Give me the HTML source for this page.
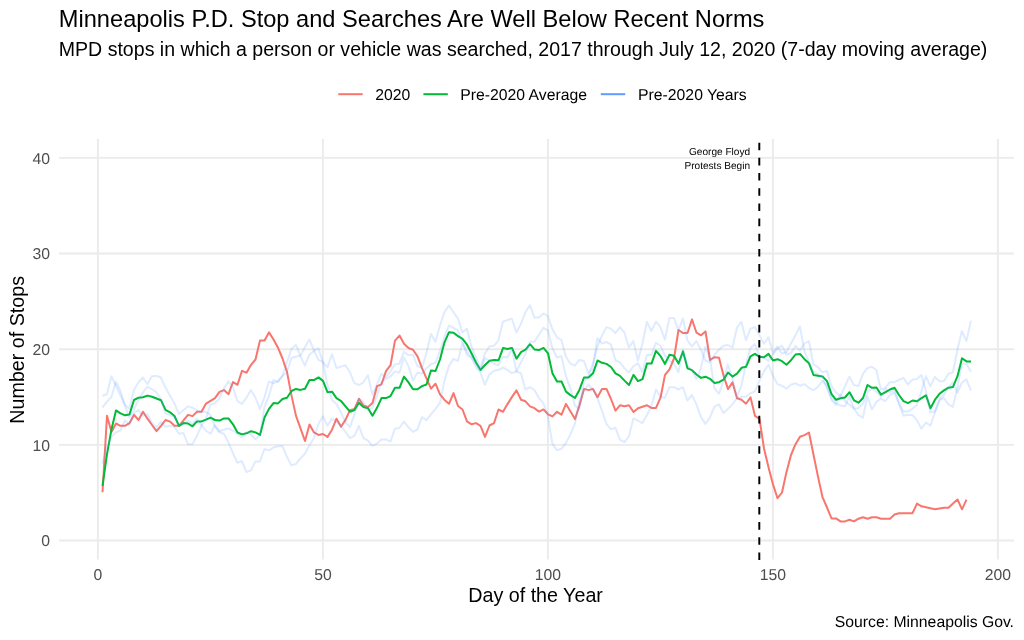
<!DOCTYPE html>
<html><head><meta charset="utf-8"><title>Minneapolis P.D. Stop and Searches</title>
<style>
html,body{margin:0;padding:0;background:#fff;}
body{width:1024px;height:640px;overflow:hidden;position:relative;font-family:"Liberation Sans",Arial,sans-serif;}
svg{position:absolute;left:0;top:0;}
text{font-family:"Liberation Sans",Arial,sans-serif;}
.gp text, text.gp{text-rendering:geometricPrecision;}
</style></head><body>
<svg width="1024" height="640" viewBox="0 0 1024 640">
<rect width="1024" height="640" fill="#fff"/>
<text x="58.8" y="26.9" font-size="23.64" fill="#000">Minneapolis P.D. Stop and Searches Are Well Below Recent Norms</text>
<text x="58.75" y="55.65" font-size="19.57" fill="#000">MPD stops in which a person or vehicle was searched, 2017 through July 12, 2020 (7-day moving average)</text>
<g stroke-width="2" fill="none">
<line x1="338.3" x2="362.7" y1="94.2" y2="94.2" stroke="#F8766D"/>
<line x1="423.4" x2="447.8" y1="94.2" y2="94.2" stroke="#00BA38"/>
<line x1="600.8" x2="625.2" y1="94.2" y2="94.2" stroke="#619CFF"/>
</g>
<g class="gp" font-size="15.76" fill="#000">
<text x="375.2" y="99.6">2020</text>
<text x="460.3" y="99.6">Pre-2020 Average</text>
<text x="638.1" y="99.6">Pre-2020 Years</text>
</g>
<g stroke="#EBEBEB" stroke-width="1.9" fill="none"><line x1="59.1" x2="1013.9" y1="540.55" y2="540.55"/><line x1="59.1" x2="1013.9" y1="444.89" y2="444.89"/><line x1="59.1" x2="1013.9" y1="349.23" y2="349.23"/><line x1="59.1" x2="1013.9" y1="253.57" y2="253.57"/><line x1="59.1" x2="1013.9" y1="157.91" y2="157.91"/><line x1="97.90" x2="97.90" y1="139.0" y2="559.4"/><line x1="322.90" x2="322.90" y1="139.0" y2="559.4"/><line x1="547.90" x2="547.90" y1="139.0" y2="559.4"/><line x1="772.90" x2="772.90" y1="139.0" y2="559.4"/><line x1="997.90" x2="997.90" y1="139.0" y2="559.4"/></g>
<g class="gp" font-size="15.76" fill="#4D4D4D"><text x="50" y="546.1" text-anchor="end">0</text><text x="50" y="450.5" text-anchor="end">10</text><text x="50" y="354.8" text-anchor="end">20</text><text x="50" y="259.2" text-anchor="end">30</text><text x="50" y="163.5" text-anchor="end">40</text><text x="97.9" y="580.0" text-anchor="middle">0</text><text x="322.9" y="580.0" text-anchor="middle">50</text><text x="547.9" y="580.0" text-anchor="middle">100</text><text x="772.9" y="580.0" text-anchor="middle">150</text><text x="997.9" y="580.0" text-anchor="middle">200</text></g>
<polyline points="102.5,492.2 107.0,415.7 111.5,432.1 116.0,423.5 120.5,425.8 125.0,425.8 129.5,423.1 134.0,414.9 138.5,420.0 143.0,411.7 147.5,418.7 152.0,425.0 156.5,431.2 161.0,425.8 165.5,420.0 170.0,421.6 174.5,425.8 179.0,425.8 183.5,420.3 188.0,414.9 192.5,416.1 197.0,411.7 201.5,411.7 206.0,403.6 210.5,400.8 215.0,398.1 219.5,391.9 224.0,390.1 228.5,394.2 233.0,382.0 237.5,384.8 242.0,370.8 246.5,372.7 251.0,364.8 255.5,359.5 260.0,340.6 264.5,340.6 269.0,332.4 273.5,339.5 278.0,347.7 282.5,358.5 287.0,371.9 291.5,395.6 296.0,415.9 300.5,428.3 305.0,441.0 309.5,424.5 314.0,432.4 318.5,434.9 323.0,434.0 327.5,436.9 332.0,429.7 336.5,418.7 341.0,426.8 345.5,419.9 350.0,410.1 354.5,408.9 359.0,398.7 363.5,405.8 368.0,406.9 372.5,403.1 377.0,386.2 381.5,384.3 386.0,371.1 390.5,365.2 395.0,340.6 399.5,335.6 404.0,343.7 408.5,348.0 413.0,349.7 417.5,356.4 422.0,368.1 426.5,378.3 431.0,388.6 435.5,383.7 440.0,394.4 444.5,399.9 449.0,403.8 453.5,393.1 458.0,406.0 462.5,409.5 467.0,421.3 471.5,424.3 476.0,423.1 480.5,425.8 485.0,436.9 489.5,425.5 494.0,423.1 498.5,409.5 503.0,411.8 507.5,404.1 512.0,396.9 516.5,390.4 521.0,399.7 525.5,401.3 530.0,406.3 534.5,408.2 539.0,411.6 543.5,409.4 548.0,414.3 552.5,416.4 557.0,411.8 561.5,414.7 566.0,403.9 570.5,411.6 575.0,419.1 579.5,405.3 584.0,388.9 588.5,390.1 593.0,388.9 597.5,397.2 602.0,388.9 606.5,388.9 611.0,399.0 615.5,410.6 620.0,405.3 624.5,406.3 629.0,405.2 633.5,412.0 638.0,408.2 642.5,406.8 647.0,405.3 651.5,407.9 656.0,407.9 660.5,397.7 665.0,374.9 669.5,369.3 674.0,358.5 678.5,330.0 683.0,333.0 687.5,333.0 692.0,319.4 696.5,332.7 701.0,335.3 705.5,331.4 710.0,360.0 714.5,357.2 719.0,357.7 723.5,375.4 728.0,389.1 732.5,382.4 737.0,398.3 741.5,399.8 746.0,403.7 750.5,397.2 755.0,415.9 759.5,418.9 764.0,448.4 768.5,467.2 773.0,484.4 777.5,498.2 782.0,492.5 786.5,471.9 791.0,455.0 795.5,444.2 800.0,436.8 804.5,435.1 809.0,432.5 813.5,454.7 818.0,476.6 822.5,497.2 827.0,507.5 831.5,518.4 836.0,518.4 840.5,521.4 845.0,521.4 849.5,519.8 854.0,521.4 858.5,518.7 863.0,517.2 867.5,518.7 872.0,517.2 876.5,517.2 881.0,518.7 885.5,518.7 890.0,518.7 894.5,514.5 899.0,513.2 903.5,513.2 908.0,513.2 912.5,513.2 917.0,503.6 921.5,506.3 926.0,507.3 930.5,508.3 935.0,509.3 939.5,508.6 944.0,507.8 948.5,507.8 953.0,503.6 957.5,499.5 962.0,509.3 966.5,499.7" stroke="#F8766D" stroke-width="2" fill="none" stroke-linejoin="round"/>
<polyline points="102.5,485.9 107.0,454.1 111.5,429.2 116.0,410.4 120.5,413.4 125.0,415.3 129.5,414.4 134.0,400.0 138.5,397.7 143.0,397.3 147.5,395.6 152.0,396.8 156.5,398.5 161.0,400.2 165.5,409.9 170.0,412.3 174.5,416.0 179.0,425.8 183.5,423.1 188.0,423.5 192.5,426.3 197.0,421.4 201.5,421.4 206.0,419.6 210.5,417.7 215.0,420.0 219.5,420.6 224.0,418.4 228.5,418.4 233.0,424.3 237.5,432.5 242.0,434.4 246.5,433.3 251.0,431.2 255.5,432.4 260.0,434.9 264.5,417.5 269.0,408.9 273.5,403.1 278.0,403.4 282.5,399.0 287.0,397.7 291.5,391.0 296.0,388.9 300.5,389.9 305.0,388.7 309.5,380.0 314.0,380.1 318.5,377.4 323.0,380.9 327.5,392.2 332.0,391.7 336.5,398.1 341.0,401.0 345.5,406.3 350.0,411.7 354.5,410.1 359.0,402.7 363.5,407.1 368.0,408.2 372.5,415.7 377.0,407.8 381.5,398.1 386.0,398.1 390.5,396.1 395.0,387.8 399.5,387.8 404.0,376.6 408.5,382.4 413.0,389.2 417.5,389.2 422.0,386.1 426.5,384.5 431.0,370.5 435.5,371.0 440.0,359.5 444.5,342.3 449.0,332.2 453.5,332.7 458.0,336.1 462.5,338.8 467.0,344.7 471.5,353.3 476.0,362.4 480.5,370.0 485.0,365.0 489.5,360.7 494.0,359.9 498.5,360.3 503.0,348.1 507.5,349.0 512.0,347.9 516.5,358.7 521.0,352.1 525.5,349.7 530.0,344.2 534.5,349.4 539.0,350.1 543.5,347.9 548.0,353.3 552.5,373.6 557.0,381.5 561.5,381.5 566.0,391.6 570.5,395.1 575.0,398.0 579.5,389.7 584.0,377.5 588.5,377.5 593.0,373.3 597.5,360.5 602.0,362.8 606.5,363.9 611.0,367.0 615.5,373.3 620.0,375.9 624.5,380.6 629.0,385.0 633.5,374.9 638.0,381.1 642.5,379.2 647.0,363.6 651.5,363.6 656.0,350.9 660.5,356.1 665.0,363.9 669.5,354.8 674.0,355.8 678.5,363.6 683.0,351.4 687.5,368.3 692.0,370.2 696.5,374.5 701.0,377.9 705.5,376.7 710.0,378.8 714.5,383.0 719.0,382.2 723.5,379.7 728.0,372.5 732.5,376.6 737.0,373.7 741.5,367.8 746.0,366.8 750.5,356.3 755.0,353.8 759.5,356.8 764.0,357.3 768.5,353.9 773.0,360.5 777.5,359.2 782.0,361.2 786.5,364.7 791.0,360.2 795.5,354.5 800.0,353.9 804.5,359.2 809.0,363.3 813.5,375.0 818.0,375.7 822.5,376.4 827.0,381.1 831.5,394.1 836.0,399.8 840.5,398.3 845.0,397.5 849.5,392.2 854.0,400.3 858.5,402.7 863.0,398.0 867.5,385.0 872.0,387.8 876.5,387.5 881.0,394.6 885.5,392.2 890.0,389.5 894.5,387.7 899.0,395.0 903.5,401.2 908.0,403.2 912.5,400.5 917.0,401.2 921.5,398.1 926.0,395.3 930.5,408.3 935.0,399.7 939.5,393.8 944.0,390.4 948.5,387.7 953.0,386.9 957.5,376.2 962.0,358.3 966.5,361.4 971.0,361.4" stroke="#00BA38" stroke-width="2" fill="none" stroke-linejoin="round"/>
<g stroke="#619CFF" stroke-opacity="0.2" stroke-width="2" fill="none" stroke-linejoin="round"><polyline points="102.4,395.7 106.9,394.2 111.4,376.3 115.9,385.8 120.4,395.4 124.9,404.8 129.4,408.7 133.9,390.0 138.4,382.2 142.9,377.5 147.4,384.2 151.9,376.3 156.4,375.9 160.9,377.5 165.4,387.6 169.9,395.4 174.4,403.3 178.9,414.1 183.4,410.3 187.9,406.4 192.4,407.7 196.9,410.3 201.4,411.9 205.9,411.9 210.4,415.0 214.9,426.7 219.4,432.2 223.9,433.7 228.4,442.3 232.9,453.2 237.4,462.7 241.9,461.0 246.4,472.0 250.9,470.4 255.4,461.5 259.9,461.5 264.4,449.1 268.9,450.3 273.4,447.5 277.9,446.2 282.4,445.9 286.9,456.8 291.4,465.4 295.9,464.0 300.4,458.5 304.9,453.8 309.4,445.2 313.9,438.2 318.4,424.1 322.9,416.2 327.4,425.8 331.9,418.6 336.4,421.7 340.9,425.8 345.4,431.9 349.9,438.2 354.4,435.8 358.9,425.8 363.4,438.2 367.9,440.5 372.4,445.9 376.9,443.7 381.4,439.6 385.9,439.4 390.4,441.6 394.9,428.7 399.4,428.0 403.9,421.7 408.4,427.2 412.9,431.9 417.4,429.6 421.9,417.2 426.4,420.1 430.9,414.3 435.4,409.1 439.9,402.9 444.4,380.9 448.9,366.1 453.4,358.9 457.9,360.9 462.4,343.3 466.9,351.6 471.4,357.0 475.9,367.1 480.4,372.7 484.9,384.7 489.4,374.7 493.9,370.8 498.4,370.0 502.9,367.6 507.4,370.0 511.9,373.1 516.4,371.6 520.9,362.2 525.4,353.6 529.9,341.8 534.4,341.8 538.9,334.8 543.4,327.8 547.9,330.3 552.4,348.2 556.9,357.5 561.4,356.1 565.9,376.1 570.4,388.6 574.9,405.6 579.4,409.1 583.9,382.3 588.4,375.6 592.9,367.7 597.4,337.9 601.9,343.6 606.4,342.0 610.9,344.4 615.4,360.1 619.9,362.4 624.4,368.3 628.9,372.4 633.4,366.3 637.9,363.2 642.4,371.9 646.9,355.0 651.4,355.1 655.9,342.7 660.4,345.8 664.9,355.5 669.4,360.6 673.9,363.4 678.4,372.2 682.9,349.7 687.4,365.3 691.9,370.3 696.4,379.2 700.9,368.4 705.4,346.8 709.9,357.7 714.4,388.4 718.9,393.8 723.4,381.4 727.9,364.6 732.4,379.1 736.9,396.5 741.4,385.8 745.9,364.6 750.4,348.1 754.9,344.1 759.4,355.7 763.9,357.9 768.4,361.0 772.9,354.3 777.4,348.3 781.9,345.6 786.4,354.5 790.9,353.3 795.4,345.9 799.9,350.6 804.4,343.5 808.9,341.0 813.4,364.4 817.9,367.2 822.4,372.3 826.9,371.0 831.4,386.0 835.9,392.5 840.4,396.2 844.9,386.5 849.4,376.6 853.9,385.0 858.4,386.0 862.9,373.8 867.4,368.1 871.9,366.7 876.4,370.0 880.9,389.7 885.4,387.8 889.9,382.2 894.4,382.2 898.9,380.0 903.4,377.8 907.9,384.4 912.4,379.8 916.9,379.0 921.4,375.0 925.9,391.2 930.4,412.5 934.9,411.3 939.4,400.0 943.9,395.0 948.4,387.6 952.9,382.5 957.4,392.5 961.9,382.5 966.4,379.4 970.9,390.7"/><polyline points="102.4,407.7 106.9,401.7 111.4,397.0 115.9,381.7 120.4,390.8 124.9,405.6 129.4,417.3 133.9,409.5 138.4,400.1 142.9,392.3 147.4,386.8 151.9,389.2 156.4,392.3 160.9,399.3 165.4,413.4 169.9,415.0 174.4,417.3 178.9,425.1 183.4,423.6 187.9,420.7 192.4,423.6 196.9,418.8 201.4,425.1 205.9,430.6 210.4,433.7 214.9,425.1 219.4,431.3 223.9,429.8 228.4,428.3 232.9,430.6 237.4,433.7 241.9,437.6 246.4,432.2 250.9,434.5 255.4,439.2 259.9,435.3 264.4,407.0 268.9,396.2 273.4,380.0 277.9,381.9 282.4,375.8 286.9,362.2 291.4,349.0 295.9,344.8 300.4,356.1 304.9,365.6 309.4,354.7 313.9,350.9 318.4,348.2 322.9,362.2 327.4,367.4 331.9,354.2 336.4,368.0 340.9,366.6 345.4,365.2 349.9,372.3 354.4,383.1 358.9,385.0 363.4,382.3 367.9,375.2 372.4,394.9 376.9,384.7 381.4,373.8 385.9,377.1 390.4,371.4 394.9,364.4 399.4,363.7 403.9,351.9 408.4,355.1 412.9,354.7 417.4,366.1 421.9,368.0 426.4,353.2 430.9,334.1 435.4,341.8 439.9,325.5 444.4,312.2 448.9,305.5 453.4,312.2 457.9,318.5 462.4,332.5 466.9,328.6 471.4,346.5 475.9,357.5 480.4,368.5 484.9,353.6 489.4,346.5 493.9,345.8 498.4,340.3 502.9,321.7 507.4,320.0 511.9,318.8 516.4,332.5 520.9,323.9 525.4,312.2 529.9,305.2 534.4,317.6 538.9,317.6 543.4,313.5 547.9,316.0 552.4,329.3 556.9,337.2 561.4,340.3 565.9,356.8 570.4,363.7 574.9,365.6 579.4,359.9 583.9,360.9 588.4,373.3 592.9,363.7 597.4,346.5 601.9,335.6 606.4,327.1 610.9,328.6 615.4,333.2 619.9,327.1 624.4,332.5 628.9,347.5 633.4,341.1 637.9,360.6 642.4,343.7 646.9,321.7 651.4,331.0 655.9,321.7 660.4,327.1 664.9,339.6 669.4,317.9 673.9,317.9 678.4,330.3 682.9,318.5 687.4,340.3 691.9,346.5 696.4,341.1 700.9,349.7 705.4,360.6 709.9,362.2 714.4,355.1 718.9,349.7 723.4,345.8 727.9,345.0 732.4,347.5 736.9,327.8 741.4,321.7 745.9,340.3 750.4,328.6 754.9,327.1 759.4,335.1 763.9,343.7 768.4,337.2 772.9,352.8 777.4,346.5 781.9,353.6 786.4,352.0 790.9,343.7 795.4,335.6 799.9,326.5 804.4,351.3 808.9,362.2 813.4,371.6 817.9,374.3 822.4,377.2 826.9,387.5 831.4,397.4 835.9,403.4 840.4,405.6 844.9,406.3 849.4,396.3 853.9,408.6 858.4,408.2 862.9,403.7 867.4,391.9 871.9,388.5 876.4,391.7 880.9,396.9 885.4,388.9 889.9,392.3 894.4,389.7 898.9,402.5 903.4,411.6 907.9,411.6 912.4,408.8 916.9,405.0 921.4,391.2 925.9,376.2 930.4,386.3 934.9,376.9 939.4,381.3 943.9,381.3 948.4,373.8 952.9,372.5 957.4,350.0 961.9,331.0 966.4,341.1 970.9,320.8"/><polyline points="102.4,463.4 106.9,447.0 111.4,436.9 115.9,432.2 120.4,430.6 124.9,420.5 129.4,424.4 133.9,413.4 138.4,409.9 142.9,415.8 147.4,414.1 151.9,422.7 156.4,427.4 160.9,422.0 165.4,426.7 169.9,425.9 174.4,426.7 178.9,433.7 183.4,433.0 187.9,444.2 192.4,444.2 196.9,436.0 201.4,425.9 205.9,418.8 210.4,404.8 214.9,403.3 219.4,398.6 223.9,388.4 228.4,381.4 232.9,387.6 237.4,400.9 241.9,404.0 246.4,397.8 250.9,390.0 255.4,397.5 259.9,409.2 264.4,397.5 268.9,381.4 273.4,383.3 277.9,381.4 282.4,376.1 286.9,372.3 291.4,358.0 295.9,356.8 300.4,355.6 304.9,347.2 309.4,339.5 313.9,350.4 318.4,359.9 322.9,361.8 327.4,384.7 331.9,400.0 336.4,403.8 340.9,412.4 345.4,422.0 349.9,427.2 354.4,414.7 358.9,398.8 363.4,401.9 367.9,410.1 372.4,407.7 376.9,396.2 381.4,381.9 385.9,379.0 390.4,376.5 394.9,371.4 399.4,372.8 403.9,357.4 408.4,366.1 412.9,380.4 417.4,372.7 421.9,373.6 426.4,368.5 430.9,364.2 435.4,362.8 439.9,351.3 444.4,337.0 448.9,325.5 453.4,327.8 457.9,330.3 462.4,341.8 466.9,355.1 471.4,357.5 475.9,363.7 480.4,370.0 484.9,358.0 489.4,360.6 493.9,363.7 498.4,365.3 502.9,356.8 507.4,357.5 511.9,348.9 516.4,371.6 520.9,373.3 525.4,389.5 529.9,387.2 534.4,390.0 538.9,398.1 543.4,403.2 547.9,415.8 552.4,443.9 556.9,450.2 561.4,448.7 565.9,443.1 570.4,434.4 574.9,423.9 579.4,401.3 583.9,390.5 588.4,384.7 592.9,389.5 597.4,398.1 601.9,410.5 606.4,423.9 610.9,429.3 615.4,427.7 619.9,439.6 624.4,442.2 628.9,436.3 633.4,418.4 637.9,420.7 642.4,423.1 646.9,415.3 651.4,405.9 655.9,389.5 660.4,396.6 664.9,397.8 669.4,387.2 673.9,387.2 678.4,389.5 682.9,387.2 687.4,400.5 691.9,395.0 696.4,404.4 700.9,416.9 705.4,423.9 709.9,417.7 714.4,406.7 718.9,404.4 723.4,413.0 727.9,409.1 732.4,404.4 736.9,398.1 741.4,397.1 745.9,396.6 750.4,393.3 754.9,391.4 759.4,380.9 763.9,371.6 768.4,364.7 772.9,375.5 777.4,384.1 781.9,385.7 786.4,388.7 790.9,384.7 795.4,383.3 799.9,385.7 804.4,384.1 808.9,388.0 813.4,390.2 817.9,386.9 822.4,380.9 826.9,386.0 831.4,400.0 835.9,404.8 840.4,394.3 844.9,401.0 849.4,404.8 853.9,408.4 858.4,415.0 862.9,417.7 867.4,396.2 871.9,409.4 876.4,401.9 880.9,398.6 885.4,401.0 889.9,395.2 894.4,392.4 898.9,403.8 903.4,415.6 907.9,415.0 912.4,415.0 916.9,420.1 921.4,428.7 925.9,422.5 930.4,425.6 934.9,412.5 939.4,400.0 943.9,398.1 948.4,404.4 952.9,406.9 957.4,387.4 961.9,363.7 966.4,363.7 970.9,371.8"/></g>
<line x1="759.3" x2="759.3" y1="560.0" y2="139" stroke="#000" stroke-width="1.95" stroke-dasharray="7.59 7.585"/>
<g class="gp" font-size="10.1" fill="#000" text-anchor="end">
<text x="750.1" y="155.1">George Floyd</text>
<text x="750.1" y="169.3">Protests Begin</text>
</g>
<text x="535.6" y="601.8" font-size="19.7" fill="#000" text-anchor="middle">Day of the Year</text>
<text transform="translate(23.8,349.8) rotate(-90)" font-size="19.7" fill="#000" text-anchor="middle">Number of Stops</text>
<text x="1014" y="627.1" class="gp" font-size="15.76" fill="#000" text-anchor="end">Source: Minneapolis Gov.</text>
</svg>
</body></html>
